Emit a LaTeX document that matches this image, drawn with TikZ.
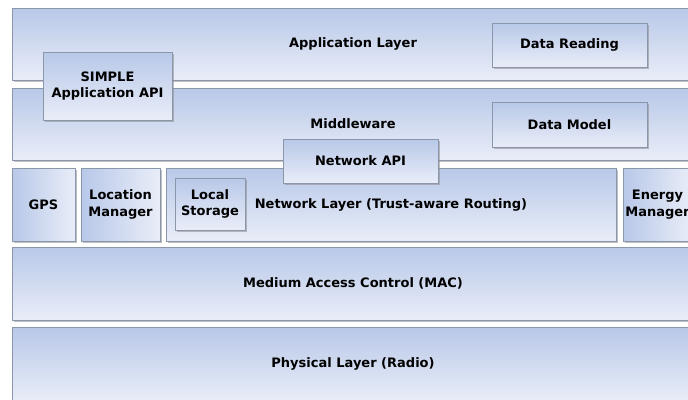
\documentclass[tikz,border=0pt]{standalone}
\usepackage{fontspec}
\setmainfont{DejaVu Sans}
\usetikzlibrary{shadows}
\definecolor{layertop}{HTML}{B8C8E8}
\definecolor{layerbot}{HTML}{E9EDF8}
\definecolor{layerline}{HTML}{8A97AB}

\begin{document}
\begin{tikzpicture}[x=1pt,y=-1pt,
  box/.style={draw=layerline,line width=0.8pt,top color=layertop,bottom color=layerbot,
    drop shadow={shadow xshift=1.5pt,shadow yshift=-1.5pt,fill=black!45,opacity=0.55},
    font=\fontsize{13}{16.5}\selectfont\bfseries,align=center,
    inner sep=0pt,outer sep=0pt,anchor=north west},
  sidebox/.style={box,left color=layertop,right color=layerbot}]
\useasboundingbox[fill=white] (0,0) rectangle (688,399);
\node[box] (app) at (12,8) [minimum width=682pt,minimum height=72pt] {Application Layer};
\node[box] (mid) at (12,88) [minimum width=682pt,minimum height=72pt] {Middleware};
\node[box] (dread) at (492,23) [minimum width=155pt,minimum height=44pt] {Data Reading};
\node[box] (dmodel) at (492,102) [minimum width=155pt,minimum height=45pt] {Data Model};
\node[box] (simple) at (43,52) [minimum width=129pt,minimum height=68pt] {SIMPLE\\Application API};
\node[sidebox] (gps) at (12,168) [minimum width=63pt,minimum height=73pt] {GPS};
\node[sidebox] (locmgr) at (81,168) [minimum width=79pt,minimum height=73pt] {Location\\Manager};
\node[box] (netl) at (166,168) [minimum width=450pt,minimum height=73pt] {Network Layer (Trust-aware Routing)};
\node[box] (lstore) at (175,178) [minimum width=70pt,minimum height=52pt] {Local\\Storage};
\node[sidebox] (energy) at (623,168) [minimum width=69pt,minimum height=73pt] {Energy\\Manager};
\node[box] (netapi) at (283,139) [minimum width=155pt,minimum height=44pt] {Network API};
\node[box] (mac) at (12,247) [minimum width=682pt,minimum height=73pt] {Medium Access Control (MAC)};
\node[box] (phy) at (12,327) [minimum width=682pt,minimum height=74pt] {Physical Layer (Radio)};
\end{tikzpicture}
\end{document}
